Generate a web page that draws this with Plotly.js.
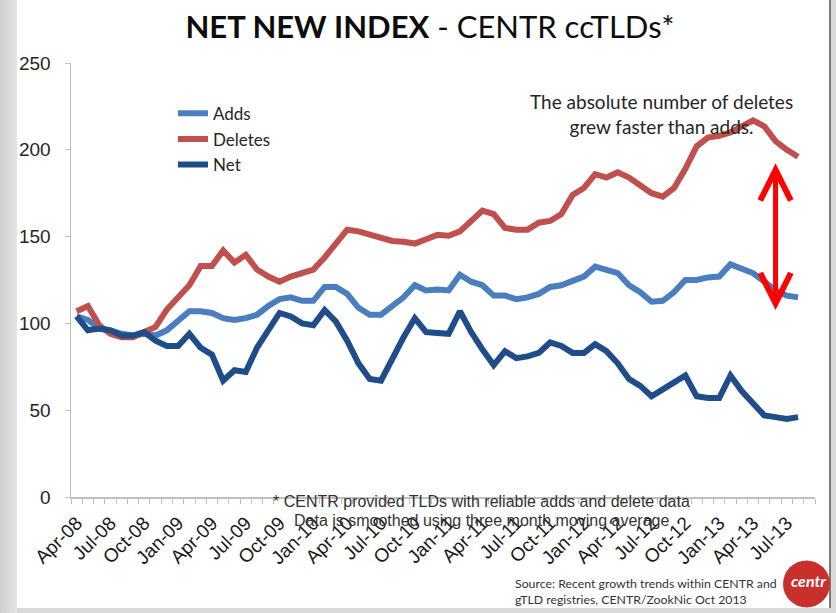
<!DOCTYPE html>
<html>
<head>
<meta charset="utf-8">
<script src="https://cdn.plot.ly/plotly-3.0.1.min.js"></script>
<style>
  html, body { margin:0; padding:0; width:836px; height:613px; overflow:hidden; background:#d9d9d9; }
  #left { position:absolute; left:0; top:0; width:17px; height:613px; background:linear-gradient(to right,#cfcfcf,#e4e4e4); }
  #slide { position:absolute; left:17px; top:0; width:812px; height:608px; background:#ffffff; border-right:2px solid #7a7a7a; }
  #chart { position:absolute; left:0; top:0; width:836px; height:613px; }
</style>
</head>
<body>
<div id="left"></div>
<div id="slide"></div>
<div id="chart"></div>
<script>
const months = ['Apr-08','May-08','Jun-08','Jul-08','Aug-08','Sep-08','Oct-08','Nov-08','Dec-08',
  'Jan-09','Feb-09','Mar-09','Apr-09','May-09','Jun-09','Jul-09','Aug-09','Sep-09','Oct-09','Nov-09','Dec-09',
  'Jan-10','Feb-10','Mar-10','Apr-10','May-10','Jun-10','Jul-10','Aug-10','Sep-10','Oct-10','Nov-10','Dec-10',
  'Jan-11','Feb-11','Mar-11','Apr-11','May-11','Jun-11','Jul-11','Aug-11','Sep-11','Oct-11','Nov-11','Dec-11',
  'Jan-12','Feb-12','Mar-12','Apr-12','May-12','Jun-12','Jul-12','Aug-12','Sep-12','Oct-12','Nov-12','Dec-12',
  'Jan-13','Feb-13','Mar-13','Apr-13','May-13','Jun-13','Jul-13','Aug-13','Sep-13'];

const tickLabels = ['Apr-08','Jul-08','Oct-08','Jan-09','Apr-09','Jul-09','Oct-09','Jan-10','Apr-10','Jul-10','Oct-10',
  'Jan-11','Apr-11','Jul-11','Oct-11','Jan-12','Apr-12','Jul-12','Oct-12','Jan-13','Apr-13','Jul-13'];

const adds = [104,102,97,96,94,93,94,93,96,101,
  107,107,106,103,102,103,105,110,114,115,
  113,113,121,121,117,109,105,105,110,115,
  122,119,119.5,119,128,124,122,116,116,114,
  115,117,121,122,124.5,127,132.7,131,129,122,
  118,112.5,113,118,125,125,126.5,127,134,131.5,
  129,124,119,116,115];

const deletes = [107,110,99,94,92,92,95,98,108,115,
  122,133,133,142,135,139.5,131,127,124,127,
  129,131,138,146,154,153,151,149,147.5,147,
  146,148.5,151,150.5,153,159,165,163,155,154,
  154,158,159,163,174,178,186,184,187,184,
  180,175,173,178,189,202,207,208,210,213.5,
  217,213.5,205,200,196];

const net = [104,96,97,96,93,93,95,90,87,87,
  94,86,82,67,73,72,86,96,106,104,
  100,99,107.7,101,90,77,68,67,80,92,
  103,95,94.5,94,107,95,85,76,84,80,
  81,83,89,87,83,83,88,84,77,68,
  64,58,62,66,70,58,57,57,70,61,
  54,47,46,45,46];

const seriesNames = ['Adds','Deletes','Net'];
const seriesColors = ['#4a7ebf','#c0504d','#1f4d89'];
const seriesValues = [adds, deletes, net];

const traces = seriesValues.map((vals, i) => ({
  type:'scatter', mode:'lines',
  name: seriesNames[i], legendgroup: 'g'+i,
  x: months.slice(0, vals.length), y: vals,
  line:{color:seriesColors[i], width:6, shape:'linear'},
  hoverinfo:'skip'
}));

const arrowX = 'Jun-13';
const L = 71, R = 815, T = 63.3, B = 496.7;
const px = v => (v - L) / (R - L);
const py = v => (B - v) / (B - T);

const layout = {
  width:836, height:613,
  margin:{l:71, r:21, t:63, b:116, pad:0},
  paper_bgcolor:'rgba(0,0,0,0)', plot_bgcolor:'rgba(0,0,0,0)',
  title:{
    text:'<b>NET NEW INDEX</b> - CENTR ccTLDs*',
    font:{family:'Lato, "Liberation Sans Narrow", sans-serif', size:31, color:'#0d0d0d'},
    xref:'paper', x:px(430), xanchor:'center',
    yref:'container', y:1-27/613, yanchor:'middle'
  },
  showlegend:true,
  legend:{
    x:px(173), y:py(96), xanchor:'left', yanchor:'top',
    bgcolor:'rgba(0,0,0,0)', borderwidth:0,
    font:{family:'Lato, sans-serif', size:17, color:'#262626'},
    traceorder:'grouped', tracegroupgap:0.5, itemwidth:30
  },
  xaxis:{
    type:'category', categoryorder:'array', categoryarray:months,
    range:[-0.5, months.length-0.5],
    tickmode:'array', tickvals:months,
    ticktext:months.map(m => tickLabels.includes(m) ? m : ''),
    tickson:'boundaries', ticks:'outside', ticklen:5, tickcolor:'#bfbfbf', tickwidth:1,
    tickangle:-45, ticklabelstandoff:6,
    tickfont:{family:'"Liberation Sans", Arial, sans-serif', size:19, color:'#1a1a1a'},
    showline:true, linecolor:'#bfbfbf', linewidth:1.5,
    showgrid:false, zeroline:false, fixedrange:true
  },
  yaxis:{
    range:[0,250], tick0:0, dtick:50,
    ticks:'outside', ticklen:5, tickcolor:'#bfbfbf', tickwidth:1,
    tickfont:{family:'"Liberation Sans", Arial, sans-serif', size:19, color:'#262626'},
    ticklabelstandoff:10,
    showline:true, linecolor:'#bfbfbf', linewidth:1.5,
    showgrid:false, zeroline:false, fixedrange:true
  },
  shapes:[
    {type:'circle', xref:'paper', yref:'paper', x0:px(783), x1:px(830), y0:py(607), y1:py(560),
     fillcolor:'#c9302c', line:{width:0}, layer:'above'}
  ],
  annotations:[
    {xref:'paper', yref:'paper', x:px(661.5), y:py(114), xanchor:'center', yanchor:'middle',
     text:'The absolute number of deletes<br>grew faster than adds.', align:'center', showarrow:false,
     font:{family:'Lato, sans-serif', size:19, color:'#262626'}},
    {xref:'x', yref:'y', x:arrowX, y:107.7, ax:arrowX, ay:193.1, axref:'x', ayref:'y',
     text:'', showarrow:true, arrowside:'end+start', arrowhead:5, startarrowhead:5,
     arrowsize:1.2, startarrowsize:1.2, arrowwidth:5, arrowcolor:'#ff0000', standoff:0, startstandoff:0},
    {xref:'paper', yref:'paper', x:px(482), y:py(501), xanchor:'center', yanchor:'middle',
     text:'* CENTR provided TLDs with reliable adds and delete data', showarrow:false,
     font:{family:'"Liberation Sans", Arial, sans-serif', size:16, color:'#333333'}},
    {xref:'paper', yref:'paper', x:px(482), y:py(520), xanchor:'center', yanchor:'middle',
     text:'Data is smoothed using three month moving average', showarrow:false,
     font:{family:'"Liberation Sans", Arial, sans-serif', size:16, color:'#333333'}},
    {xref:'paper', yref:'paper', x:px(513), y:py(591), xanchor:'left', yanchor:'middle',
     text:'Source: Recent growth trends within CENTR and<br>gTLD registries, CENTR/ZookNic Oct 2013', align:'left', showarrow:false,
     font:{family:'Lato, sans-serif', size:12.3, color:'#333333'}},
    {xref:'paper', yref:'paper', x:px(808), y:py(580), xanchor:'center', yanchor:'middle',
     text:'<b><i>centr</i></b>', showarrow:false,
     font:{family:'Lato, sans-serif', size:16, color:'#ffffff'}}
  ]
};

Plotly.newPlot('chart', traces, layout, {staticPlot:true, displayModeBar:false});
</script>
</body>
</html>
